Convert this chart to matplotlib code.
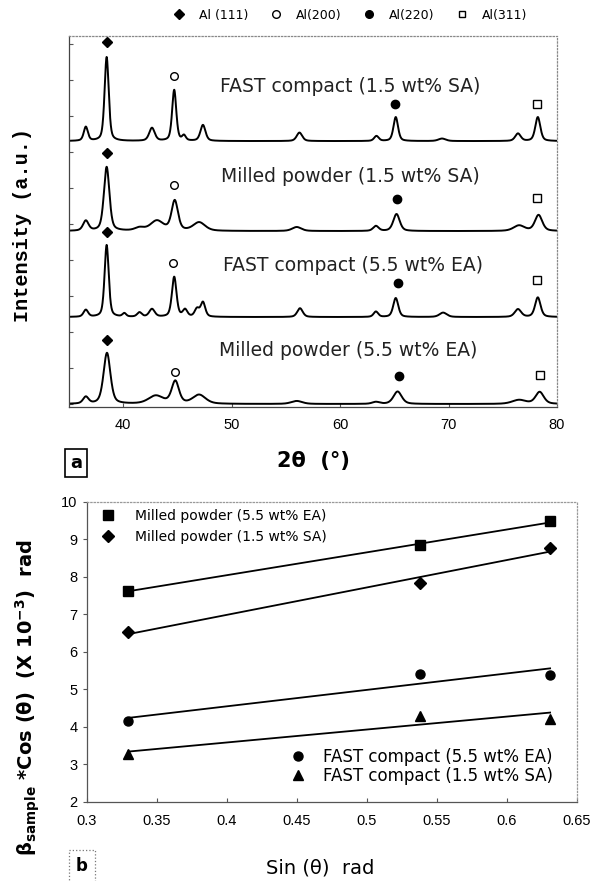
import matplotlib
matplotlib.use("Agg")
import matplotlib.pyplot as plt
import numpy as np
from matplotlib.lines import Line2D
from matplotlib.ticker import MultipleLocator, FormatStrFormatter

# --------------------------------------------------------------------------- #
# Panel a: XRD patterns, peak tables                      #
# (2-theta in deg, height in a.u., FWHM in deg), top trace first               #
# --------------------------------------------------------------------------- #
trace_names = [
    "FAST compact (1.5 wt% SA)",
    "Milled powder (1.5 wt% SA)",
    "FAST compact (5.5 wt% EA)",
    "Milled powder (5.5 wt% EA)",
]
trace_offsets = [263, 173, 87, 0]

fast15_pos = [36.55, 38.47, 42.65, 44.7, 45.6, 47.35, 56.25, 63.35, 65.13, 69.4, 76.4, 78.23]
fast15_h = [14, 84, 13, 51, 5, 16, 8.5, 5, 24, 2.5, 7.5, 24]
fast15_w = [0.45, 0.45, 0.6, 0.45, 0.4, 0.55, 0.6, 0.5, 0.5, 0.8, 0.6, 0.55]

mill15_pos = [36.55, 38.47, 41.5, 43.1, 44.75, 47.0, 56.0, 63.3, 65.2, 76.5, 78.3]
mill15_h = [10, 64, 3, 10, 30, 8.5, 4, 5, 17, 5.5, 16]
mill15_w = [0.6, 0.6, 1.0, 1.4, 0.7, 1.3, 1.0, 0.6, 0.7, 1.2, 0.8]

fast55_pos = [36.55, 38.47, 40.1, 41.5, 42.65, 44.7, 45.7, 46.8, 47.35, 56.3, 63.3, 65.13, 69.5, 76.4, 78.23]
fast55_h = [7, 72, 3.4, 4.4, 7.8, 40, 7, 7.8, 14.5, 8.8, 5.4, 19, 4.4, 7.8, 19.6]
fast55_w = [0.5, 0.45, 0.4, 0.5, 0.6, 0.5, 0.5, 0.5, 0.5, 0.6, 0.5, 0.55, 0.8, 0.7, 0.6]

mill55_pos = [36.55, 38.5, 43.0, 44.8, 47.0, 56.0, 63.3, 65.3, 76.5, 78.4]
mill55_h = [6.8, 51, 8, 22.5, 9, 3, 2, 12.5, 4, 12]
mill55_w = [0.6, 0.75, 1.6, 0.8, 1.4, 1.2, 0.8, 0.9, 1.5, 0.9]

peak_tables = [
    (fast15_pos, fast15_h, fast15_w),
    (mill15_pos, mill15_h, mill15_w),
    (fast55_pos, fast55_h, fast55_w),
    (mill55_pos, mill55_h, mill55_w),
]

# reflection markers: x position per trace, height above trace baseline
al111_x = [38.47, 38.47, 38.47, 38.47]
al111_y = [99, 78, 85, 64]
al200_x = [44.7, 44.7, 44.6, 44.8]
al200_y = [65, 46, 54, 32]
al220_x = [65.1, 65.2, 65.3, 65.4]
al220_y = [37, 32, 34, 28]
al311_x = [78.2, 78.2, 78.2, 78.4]
al311_y = [37, 33, 37, 29]

label_x = [60.9, 60.9, 61.2, 60.75]
label_y = [55, 55, 51.5, 54]

# --------------------------------------------------------------------------- #
# Panel b: Williamson-Hall data                                               #
# --------------------------------------------------------------------------- #
sin_theta = [0.3295, 0.538, 0.631]
milled_55 = [7.63, 8.85, 9.48]
milled_15 = [6.52, 7.85, 8.78]
fast_55 = [4.16, 5.42, 5.38]
fast_15 = [3.27, 4.30, 4.22]


def profile(x, pos, h, w, eta=0.45):
    y = np.zeros_like(x)
    for c, a, fw in zip(pos, h, w):
        hw = fw / 2.0
        lor = 1.0 / (1.0 + ((x - c) / hw) ** 2)
        gau = np.exp(-np.log(2) * ((x - c) / hw) ** 2)
        y += a * (eta * lor + (1 - eta) * gau)
    return y


fig = plt.figure(figsize=(5.97, 8.81), dpi=100)

# ---------------- panel a ---------------- #
ax = fig.add_axes([0.1156, 0.538, 0.8174, 0.421])
tt = np.linspace(35, 80, 3000)
for k, (pos, h, w) in enumerate(peak_tables):
    base = trace_offsets[k]
    ax.plot(tt, base + profile(tt, pos, h, w), color="black", lw=1.4)
    ax.plot(al111_x[k], base + al111_y[k], "D", color="black", ms=5, clip_on=False)
    ax.plot(al200_x[k], base + al200_y[k], "o", mfc="white", mec="black", mew=1.0, ms=5.5)
    ax.plot(al220_x[k], base + al220_y[k], "o", color="black", ms=6)
    ax.plot(al311_x[k], base + al311_y[k], "s", mfc="white", mec="black", mew=1.0, ms=5.5)
    ax.text(label_x[k], base + label_y[k], trace_names[k], ha="center", va="center",
            fontsize=13.5, color="#222222")

ax.set_xlim(35, 80)
ax.set_ylim(-3, 368)
ax.set_xticks([40, 50, 60, 70, 80])
ax.yaxis.set_major_locator(MultipleLocator(36))
ax.set_yticklabels([])
ax.tick_params(axis="y", direction="in", length=3, color="#555555")
ax.tick_params(axis="x", direction="in", length=3, labelsize=10.5, color="#555555", pad=8)
for lab in ax.get_xticklabels():
    lab.set_family("Liberation Sans")
for side in ("top", "right"):
    ax.spines[side].set_color("#888888")
    ax.spines[side].set_linestyle(":")
    ax.spines[side].set_linewidth(0.9)
for side in ("left", "bottom"):
    ax.spines[side].set_color("#444444")
    ax.spines[side].set_linewidth(0.9)

fig.text(0.037, 0.745, "Intensity (a.u.)", rotation=90, ha="center", va="center",
         fontsize=14.5, fontweight="bold", family="Liberation Mono")
fig.text(0.525, 1 - 461 / 881, "2\u03b8  (\u00b0)", ha="center", va="center",
         fontsize=15, fontweight="bold")
fig.text(76 / 597, 1 - 463 / 881, "a", ha="center", va="center", fontsize=13,
         fontweight="bold",
         bbox=dict(boxstyle="square,pad=0.3", fc="white", ec="black", lw=1.2))

handles = [
    Line2D([], [], ls="none", marker="D", color="black", ms=5),
    Line2D([], [], ls="none", marker="o", mfc="white", mec="black", ms=5.5),
    Line2D([], [], ls="none", marker="o", color="black", ms=5.5),
    Line2D([], [], ls="none", marker="s", mfc="white", mec="black", ms=5),
]
fig.legend(handles, ["Al (111)", "Al(200)", "Al(220)", "Al(311)"], ncol=4,
           loc="center", bbox_to_anchor=(0.588, 1 - 15 / 881), frameon=False,
           fontsize=9, handlelength=0.8, handletextpad=1.2, columnspacing=1.8)

# ---------------- panel b ---------------- #
bx = fig.add_axes([0.1452, 0.0897, 0.8208, 0.3405])
series = [
    (milled_55, "s", 6.5, "Milled powder (5.5 wt% EA)"),
    (milled_15, "D", 6, "Milled powder (1.5 wt% SA)"),
    (fast_55, "o", 6.5, "FAST compact (5.5 wt% EA)"),
    (fast_15, "^", 7.5, "FAST compact (1.5 wt% SA)"),
]
xs = np.array(sin_theta)
pts = []
for vals, mk, ms, name in series:
    slope, icpt = np.polyfit(xs, vals, 1)
    xl = np.array([xs[0], xs[-1]])
    bx.plot(xl, slope * xl + icpt, color="black", lw=1.3, zorder=2)
    p, = bx.plot(xs, vals, mk, color="black", ms=ms, ls="none", zorder=3)
    pts.append(p)

leg1 = bx.legend(pts[:2], [s[3] for s in series[:2]], loc="upper left",
                 bbox_to_anchor=(0.017, 0.994), frameon=True, fancybox=False,
                 facecolor="white", edgecolor="none", framealpha=1,
                 fontsize=10, handlelength=1.0, handletextpad=1.5,
                 labelspacing=0.5, borderpad=0.4, borderaxespad=0)
bx.add_artist(leg1)
bx.legend(pts[2:], [s[3] for s in series[2:]], loc="lower left",
          bbox_to_anchor=(0.408, 0.047), frameon=False,
          fontsize=12, handlelength=1.0, handletextpad=1.0,
          labelspacing=0.05, borderpad=0.2, borderaxespad=0)

bx.set_xlim(0.3, 0.65)
bx.set_ylim(2, 10)
bx.xaxis.set_major_locator(MultipleLocator(0.05))
bx.xaxis.set_major_formatter(FormatStrFormatter("%g"))
bx.yaxis.set_major_locator(MultipleLocator(1))
bx.tick_params(axis="x", direction="in", length=3, labelsize=10.5, pad=9, color="#555555")
bx.tick_params(axis="y", direction="out", length=3, labelsize=10.5, color="#555555")
for lab in bx.get_xticklabels() + bx.get_yticklabels():
    lab.set_family("Liberation Sans")
for side in ("top", "right"):
    bx.spines[side].set_color("#999999")
    bx.spines[side].set_linestyle(":")
    bx.spines[side].set_linewidth(0.9)
for side in ("left", "bottom"):
    bx.spines[side].set_color("#555555")
    bx.spines[side].set_linewidth(0.9)

fig.text(0.047, 1 - 698 / 881,
         r"$\mathregular{\beta}_{\mathbf{sample}}$ *Cos ($\mathregular{\theta}$)  (X 10$^{\mathbf{-3}}$)  rad",
         rotation=90, ha="center", va="center", fontsize=14, fontweight="bold")
fig.text(320 / 597, 1 - 868 / 881, "Sin (\u03b8)  rad", ha="center", va="center",
         fontsize=14)
fig.text(82 / 597, 1 - 866 / 881, "b", ha="center", va="center", fontsize=12,
         fontweight="bold",
         bbox=dict(boxstyle="square,pad=0.4", fc="white", ec="#777777", lw=0.9, ls=":"))

fig.savefig("out.png", dpi=100)
